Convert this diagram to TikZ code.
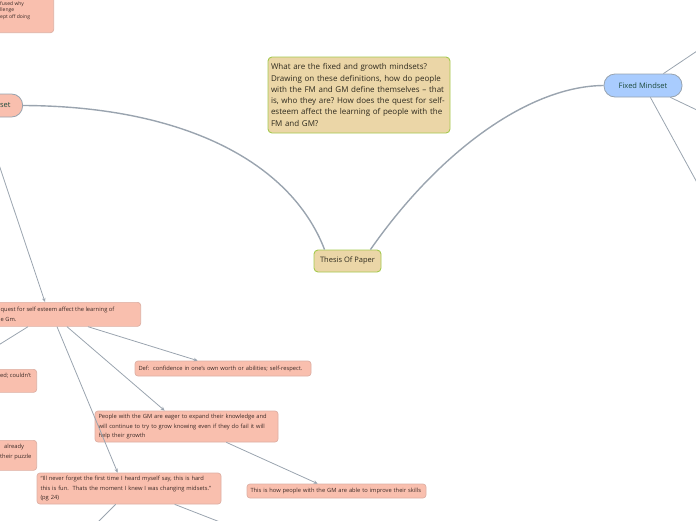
\documentclass[tikz,border=0pt]{standalone}
\usepackage{fontspec}
\setmainfont{Open Sans}
\usetikzlibrary{arrows.meta,calc}
\newcommand\lineL[1]{\makebox[0pt][l]{#1}}
\definecolor{salmon}{HTML}{F9BFAE}
\definecolor{sborder}{HTML}{DDAFA3}
\definecolor{stext}{HTML}{3A2A26}
\definecolor{tan}{HTML}{EBD6A7}
\definecolor{tborder}{HTML}{A5C94E}
\definecolor{ttext}{HTML}{2E2A1E}
\definecolor{skyb}{HTML}{A9CCFE}
\definecolor{pborder}{HTML}{97A3AF}
\definecolor{ptext}{HTML}{1C4A3B}
\definecolor{linec}{HTML}{9AA4AF}
\begin{document}
\begin{tikzpicture}[x=1pt,y=-1pt,
  sbox/.style={draw=sborder, fill=salmon, rounded corners=3pt, line width=0.7pt, inner xsep=3.5pt, inner ysep=0pt, align=left, text=stext, font=\fontsize{5.75}{9.5}\selectfont},
  stxt/.style={inner sep=0pt, align=left, text=stext, font=\fontsize{5.75}{9.5}\selectfont},
  tbox/.style={draw=tborder, fill=tan, rounded corners=4pt, line width=0.9pt, inner xsep=3pt, inner ysep=0pt, text=ttext},
  pill/.style={draw=pborder, rounded corners=11pt, line width=0.8pt, inner sep=0pt, text=ptext, font=\fontsize{7.5}{9}\selectfont},
  conn/.style={draw=linec, line width=0.8pt},
  arr/.style={conn, -{Stealth[length=4pt,width=3.5pt]}},
  curve/.style={draw=linec, line width=1.4pt}]
\useasboundingbox (0,0) rectangle (696,520);
\clip (0,0) rectangle (696,520);

% main nodes
\node[tbox, minimum width=182pt, minimum height=76pt, text width=176pt, align=left, font=\fontsize{8}{11.3}\selectfont] (q) at (359,95) {\lineL{What are the fixed and growth mindsets?}\\\lineL{Drawing on these definitions, how do people}\\\lineL{with the FM and GM define themselves – that}\\\lineL{is, who they are?\ How does the quest for self-}\\\lineL{esteem affect the learning of people with the}\\\lineL{FM and GM?}};
\node[tbox, minimum width=67pt, minimum height=22pt, align=center, font=\fontsize{7.5}{9}\selectfont] (th) at (347.5,261) {Thesis Of Paper};
\node[pill, fill=skyb, minimum width=78pt, minimum height=23pt] (fm) at (643,85.5) {Fixed Mindset};
\node[pill, fill=salmon, minimum width=80pt, minimum height=23pt, anchor=east] (gm) at (23,105.5) {};
\node[pill, anchor=east, draw=none] (gmt) at (11,105.5) {set};

% partial nodes at the left edge
\node[sbox, minimum width=100pt, minimum height=50pt, anchor=south east] (tl) at (54,33) {};
\node[stxt, anchor=north west, font=\fontsize{5}{6.8}\selectfont] (tlt) at (0,1) {fused why\\llenge\\ept off doing};
\node[sbox, minimum width=200pt, minimum height=24pt, anchor=north east] (qs) at (141,302) {};
\node[stxt, anchor=west] (qst) at (0.5,314.5) {quest for self esteem affect the learning of\\e Gm.};
\node[sbox, minimum width=100pt, minimum height=23pt, anchor=north east] (ec) at (37,369) {};
\node[stxt, anchor=west] (ect) at (0,376) {ed; couldn't};
\node[sbox, minimum width=100pt, minimum height=30pt, anchor=north east] (al) at (37,440) {};
\node[stxt, anchor=west] (alt) at (0,452) {\hspace*{4pt}already\\their puzzle};

% full small nodes
\node[sbox, minimum width=176pt, minimum height=15pt, text width=169pt] (df) at (223,368.5) {\lineL{Def:\ \ confidence in one’s own worth or abilities; self-respect.}};
\node[sbox, minimum width=183pt, minimum height=31pt, text width=176pt] (pp) at (186.5,426.5) {\lineL{People with the GM are eager to expand their knowledge and}\\\lineL{will continue to try to grow knowing even if they do fail it will}\\\lineL{help their growth}};
\node[sbox, minimum width=184pt, minimum height=31pt, text width=177pt] (qt) at (129,488.5) {\lineL{“Ill never forget the first time I heard myself say, this is hard}\\\lineL{this is fun.\ \ Thats the moment I knew I was changing midsets.”}\\\lineL{(pg 24)}};
\node[sbox, minimum width=179pt, minimum height=14pt, text width=172pt] (ti) at (336.5,491) {\lineL{This is how people with the GM are able to improve their skills}};

% off-picture ends
\coordinate (gmb) at (-17,117);
\coordinate (fm1) at (700,49);
\coordinate (fm2) at (700,111.5);
\coordinate (fm3) at (700,188);
\coordinate (qt1) at (98,522);
\coordinate (qt2) at (220,522);

% curves to thesis
\draw[curve] (gm.east) .. controls (180,106) and (290,160) .. ([xshift=11pt]th.north west);
\draw[curve] (fm.west) .. controls (530,86) and (440,150) .. ([xshift=-11pt]th.north east);

% fixed mindset branches
\draw[conn] ([xshift=-19pt]fm.north east) -- (fm1);
\draw[conn] ([xshift=-12pt]fm.south east) -- (fm2);
\draw[conn] ([xshift=-32pt]fm.south east) -- (fm3);

% growth mindset branches
\draw[arr] (gmb) -- ([xshift=-96pt]qs.north east);
\draw[arr] ([xshift=-113pt]qs.south east) -- ([xshift=-77pt]ec.north east);
\draw[arr] ([xshift=-84pt]qs.south east) -- ([xshift=81pt]qt.north west);
\draw[arr] ([xshift=-74pt]qs.south east) -- ([xshift=70pt]pp.north west);
\draw[arr] ([xshift=-53pt]qs.south east) -- ([xshift=63pt]df.north west);
\draw[arr] ([xshift=-52pt]pp.south east) -- ([xshift=71pt]ti.north west);
\draw[conn] ([xshift=79pt]qt.south west) -- (qt1);
\draw[conn] ([xshift=138pt]qt.south west) -- (qt2);
\end{tikzpicture}
\end{document}
